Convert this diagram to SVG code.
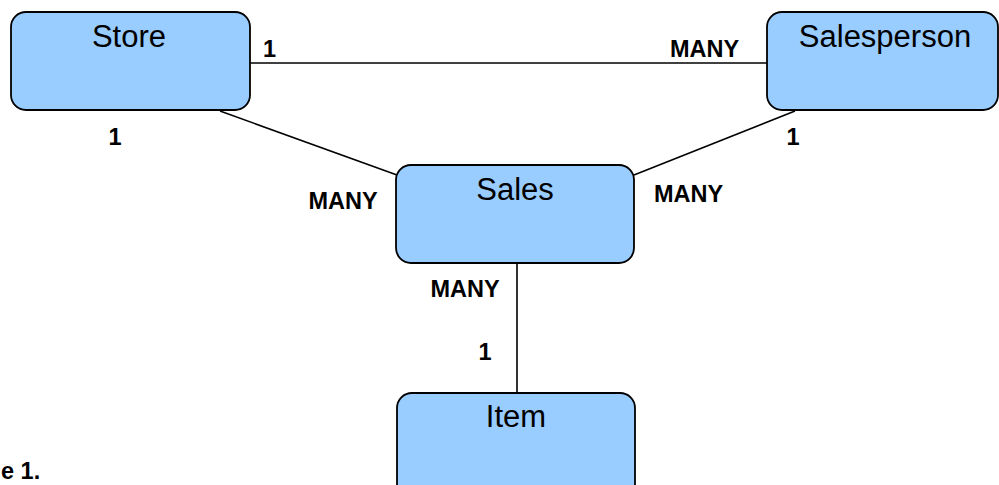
<svg xmlns="http://www.w3.org/2000/svg" width="999" height="485" viewBox="0 0 999 485">
  <style>
    .box { fill: #99ccff; stroke: #000; stroke-width: 1.8; }
    .name { font-family: "Liberation Sans", Arial, sans-serif; font-size: 31px; fill: #000; text-anchor: middle; }
    .card { font-family: "Liberation Sans", Arial, sans-serif; font-size: 23.5px; font-weight: bold; fill: #000; }
    .link { stroke: #000; stroke-width: 1.6; fill: none; }
  </style>
  <rect width="999" height="485" fill="#fff"/>

  <!-- connectors -->
  <g id="connectors">
    <line class="link" x1="250" y1="63" x2="767" y2="63"/>
    <line class="link" x1="220" y1="111" x2="397" y2="175"/>
    <line class="link" x1="795" y1="111" x2="634" y2="175"/>
    <line class="link" x1="517" y1="263" x2="517" y2="393"/>
  </g>

  <!-- entities -->
  <g id="store">
    <rect class="box" x="11" y="12" width="239" height="98" rx="15"/>
    <text class="name" x="129" y="46.5">Store</text>
  </g>
  <g id="salesperson">
    <rect class="box" x="767" y="12" width="231" height="98" rx="15"/>
    <text class="name" x="885" y="46.5">Salesperson</text>
  </g>
  <g id="sales">
    <rect class="box" x="396" y="165" width="238" height="98" rx="15"/>
    <text class="name" x="515" y="200">Sales</text>
  </g>
  <g id="item">
    <rect class="box" x="397" y="393" width="238" height="110" rx="15"/>
    <text class="name" x="516" y="426.5">Item</text>
  </g>

  <!-- cardinality labels -->
  <g id="labels">
    <text class="card" x="269.5" y="56.5" text-anchor="middle">1</text>
    <text class="card" x="704.5" y="56.5" text-anchor="middle">MANY</text>
    <text class="card" x="115" y="145" text-anchor="middle">1</text>
    <text class="card" x="793" y="145" text-anchor="middle">1</text>
    <text class="card" x="343" y="209" text-anchor="middle">MANY</text>
    <text class="card" x="688.5" y="202.3" text-anchor="middle">MANY</text>
    <text class="card" x="465" y="296.5" text-anchor="middle">MANY</text>
    <text class="card" x="485" y="360" text-anchor="middle">1</text>
  </g>

  <text class="card" x="1" y="479">e 1.</text>
</svg>
